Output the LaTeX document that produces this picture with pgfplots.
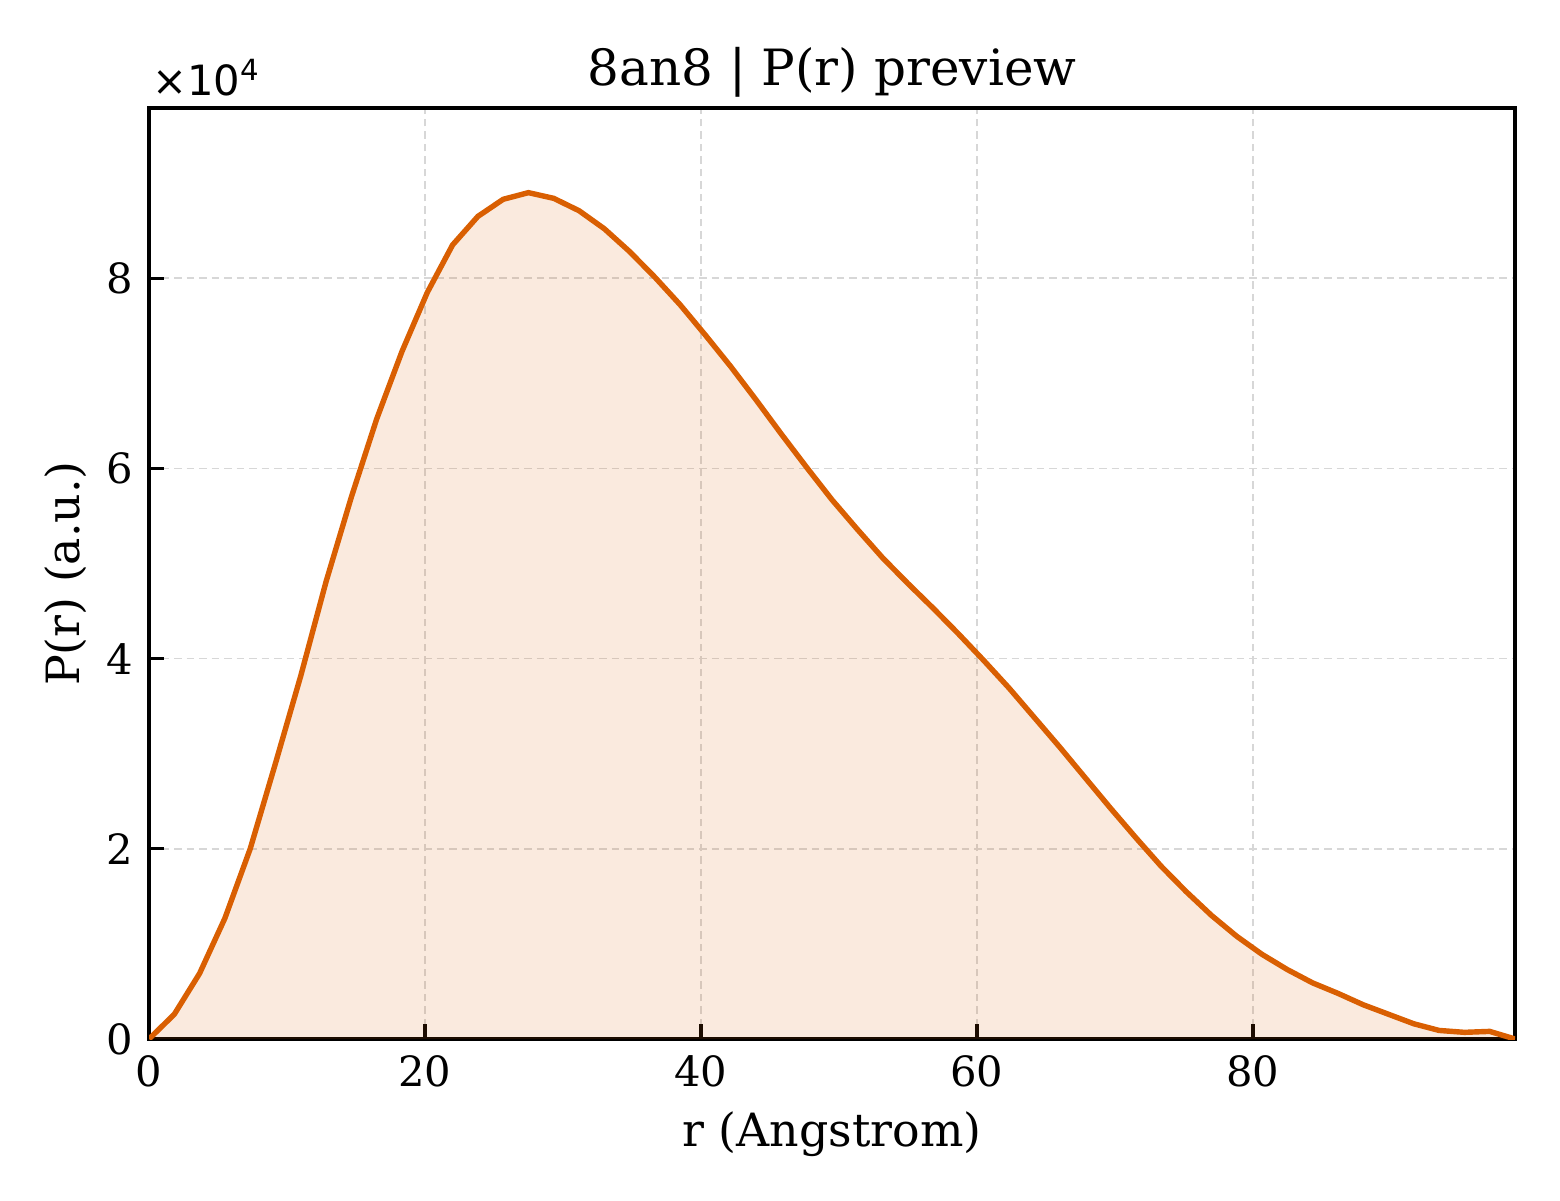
\documentclass[border=0pt]{standalone}
\usepackage{pgfplots}
\pgfplotsset{compat=1.18}
\usepackage{pgfplotstable}
\usepackage{fontspec}
\setmainfont{DejaVu Serif}
\newfontfamily\dvsans{DejaVu Sans}
\definecolor{lineor}{RGB}{217,95,2}
\definecolor{gridc}{RGB}{215,215,215}
\pgfplotstableread{
x y
0.000 0.00
1.833 0.26
3.667 0.69
5.500 1.27
7.333 2.00
9.167 2.90
11.000 3.82
12.833 4.81
14.667 5.70
16.500 6.52
18.333 7.23
20.167 7.85
22.000 8.35
23.833 8.65
25.667 8.83
27.500 8.90
29.333 8.84
31.167 8.71
33.000 8.52
34.833 8.28
36.667 8.01
38.500 7.72
40.333 7.40
42.167 7.07
44.000 6.72
45.833 6.36
47.667 6.01
49.500 5.67
51.333 5.36
53.167 5.06
55.000 4.79
56.833 4.53
58.667 4.26
60.500 3.98
62.333 3.69
64.167 3.38
66.000 3.07
67.833 2.75
69.667 2.43
71.500 2.12
73.333 1.82
75.167 1.55
77.000 1.30
78.833 1.08
80.667 0.89
82.500 0.73
84.333 0.59
86.167 0.48
88.000 0.36
89.833 0.26
91.667 0.16
93.500 0.09
95.333 0.07
97.167 0.08
99.000 0.00
}\prdata
\begin{document}
\begin{tikzpicture}
\begin{axis}[
  scale only axis,
  width=327.8pt, height=223.4pt,
  xmin=0, xmax=99, ymin=0, ymax=9.79,
  xtick={0,20,40,60,80},
  ytick={0,2,4,6,8},
  xtick pos=bottom, ytick pos=left,
  tick align=inside,
  major tick length=3.6pt,
  tick style={black, line width=0.8pt},
  axis line style={black, line width=0.8pt},
  grid=major,
  major grid style={gridc, line width=0.4pt, dash pattern=on 1.8pt off 1.2pt},
  /pgf/number format/assume math mode=true,
  ticklabel style={font=\fontsize{10}{12}\selectfont},
  xticklabel style={yshift=-0.5pt},
  yticklabel style={xshift=-0.3pt},
  title={8an8 | P(r) preview},
  title style={font=\fontsize{12}{14}\selectfont, yshift=-6.9pt},
  xlabel={r (Angstrom)},
  ylabel={P(r) (a.u.)},
  label style={font=\fontsize{11}{13}\selectfont},
  xlabel style={yshift=1pt},
  ylabel style={yshift=-2pt},
  clip=true,
]
\addplot[draw=none, fill=lineor, fill opacity=0.13] table[x=x,y=y] {\prdata} \closedcycle;
\addplot[lineor, line width=1.3pt] table[x=x,y=y] {\prdata};
\end{axis}
\node[anchor=south west, inner sep=0pt, font=\dvsans\fontsize{10}{12}\selectfont]
  at ([shift={(0.6pt,2.6pt)}]current axis.north west) {×10\textsuperscript{4}};
\path ([shift={(-35.76pt,-38.64pt)}]current axis.south west) rectangle ([shift={(10.8pt,25.92pt)}]current axis.north east);
\end{tikzpicture}
\end{document}
